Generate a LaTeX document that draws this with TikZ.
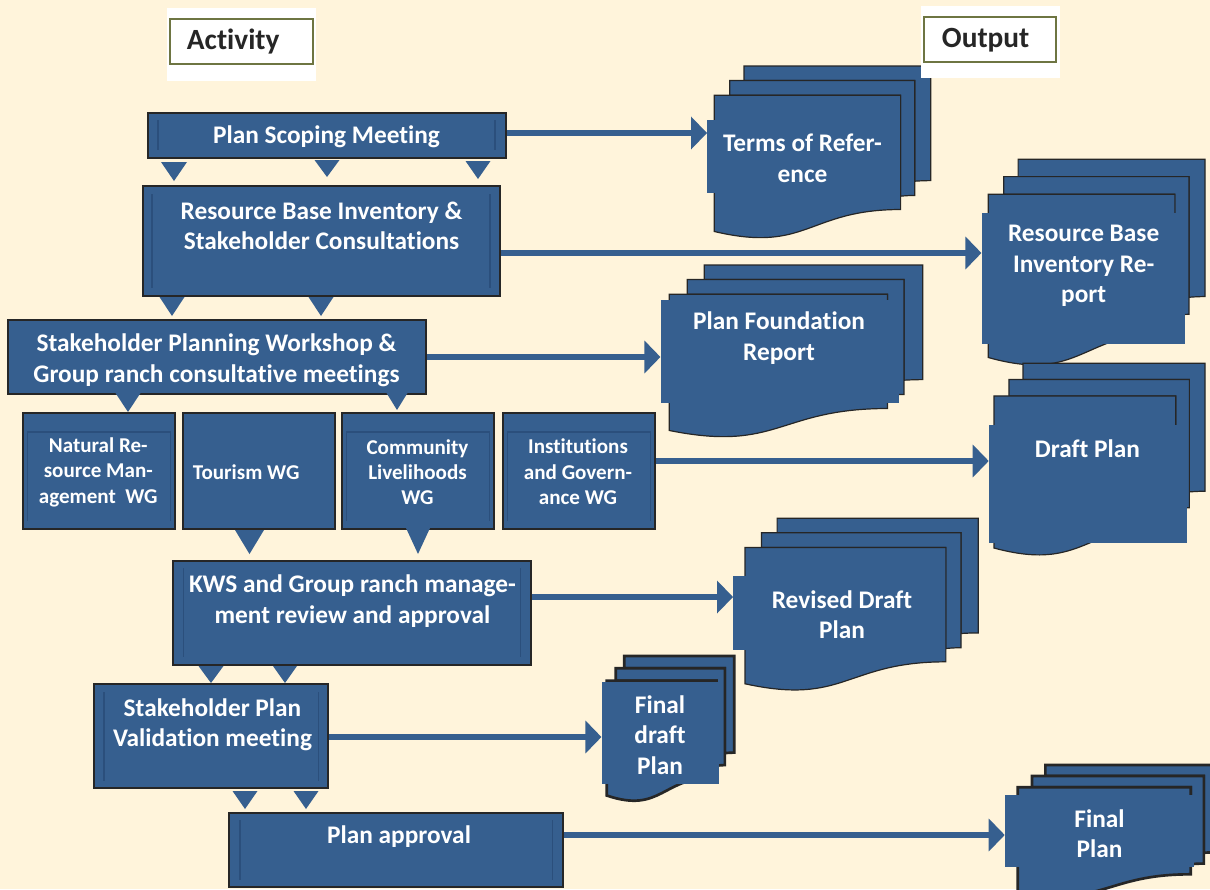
\documentclass[tikz,border=0pt]{standalone}
\usepackage{fontspec}
\setmainfont{Carlito}[Ligatures=NoCommon]
\usetikzlibrary{arrows.meta,fit,calc}

\definecolor{cream}{HTML}{FFF4DB}
\definecolor{boxblue}{HTML}{365F8F}
\definecolor{edge}{HTML}{262626}
\definecolor{innerln}{HTML}{2B4F7C}
\definecolor{olive}{HTML}{6E7542}

% stack of three pages with a wavy bottom edge: x0, y0, width, height, style
\newcommand\docstack[5]{%
  \begin{scope}[shift={(#1,#2)}, xscale=#3, yscale=#4]
    \filldraw[#5] (0.1376,0) -- (1,0) -- (1,0.6663)
      .. controls (0.963,0.6663) and (0.926,0.6698) .. (0.926,0.6698)
      -- (0.926,0.084) -- (0.1376,0.084) -- cycle;
    \filldraw[#5] (0.0709,0.1701) -- (0.0709,0.084) -- (0.926,0.084) -- (0.926,0.7524)
      .. controls (0.8935,0.7524) and (0.8609,0.757) .. (0.8609,0.757)
      -- (0.8609,0.1701) -- cycle;
    \filldraw[#5] (0,0.9621) .. controls (0.4305,1.0899) and (0.4305,0.8344) .. (0.8609,0.8344)
      -- (0.8609,0.1701) -- (0,0.1701) -- cycle;
  \end{scope}}

% downward pointing marker: centre x, top y, tip y, width
\newcommand\dropat[4]{%
  \fill[drop] ({#1-#4/2},#2) -- ({#1+#4/2},#2) -- (#1,#3) -- cycle;}

\begin{document}
\begin{tikzpicture}[x=0.75pt,y=-0.75pt,
  actbox/.style={draw=edge, line width=1.5pt, fill=boxblue, inner sep=0pt},
  acttext/.style={text=white, font=\fontsize{19}{23}\selectfont\bfseries, align=center, inner sep=0pt},
  wgtext/.style={text=white, font=\fontsize{15.8}{19}\selectfont\bfseries, align=center, inner sep=0pt},
  textbox/.style={fill=boxblue, inner sep=0pt},
  page/.style={draw=edge, fill=boxblue, line width=0.9pt},
  heavypage/.style={draw=edge, fill=boxblue, line width=2pt},
  flow/.style={draw=boxblue, line width=4.4pt, -{Triangle[length=12pt,width=24pt]}},
  drop/.style={fill=boxblue},
  innerline/.style={draw=innerln, line width=0.8pt},
  headbox/.style={draw=olive, line width=1.6pt, fill=white, inner sep=0pt},
  headtext/.style={text=edge, font=\fontsize{22}{26}\selectfont\bfseries, inner sep=0pt, anchor=west},
]
\useasboundingbox (0,0) rectangle (1210,889);
\fill[cream] (0,0) rectangle (1210,889);

% ---------- output documents ----------
\docstack{714.3}{66}{216.4}{172}{page}
\node[textbox, fit={(707.3,120) (890.7,192.7)}] (tor) {};
\node[acttext] (tor-t) at (802.5,158.5) {Terms of Refer-\\ence};

\docstack{988.3}{159.3}{216.7}{206}{page}
\node[textbox, fit={(981.7,213.3) (1185,344.3)}] (rbir) {};
\node[acttext] (rbir-t) at (1083.7,266) {Resource Base\\Inventory Re-\\port};

\docstack{669.3}{265}{253.4}{172}{page}
\node[textbox, fit={(660.7,300) (899,402.7)}] (pfr) {};
\node[acttext] (pfr-t) at (779,338.3) {Plan Foundation\\Report};

\docstack{994}{363.3}{211}{192}{page}
\node[textbox, fit={(989,425) (1186.7,542.7)}] (dp) {};
\node[acttext] (dp-t) at (1087.5,448.3) {Draft Plan};

\docstack{745}{518.3}{233.3}{172}{page}
\node[textbox, fit={(733.3,575.7) (936,650)}] (rdp) {};
\node[acttext] (rdp-t) at (842,614.7) {Revised Draft\\Plan};

\docstack{606.7}{656}{127.6}{145}{heavypage}
\node[textbox, fit={(601.7,681.7) (719,784)}] (fdp) {};
\node[acttext] (fdp-t) at (660,735) {Final\\draft\\Plan};

\docstack{1017.7}{765}{201}{131}{heavypage}
\node[textbox, fit={(1005,795) (1194,867.3)}] (fp) {};
\node[acttext] (fp-t) at (1099.5,833.8) {Final\\Plan};

% ---------- activity boxes ----------
\node[actbox, fit={(147.7,113.3) (505.7,157.7)}] (psm) {};
\node[actbox, fit={(143,186) (500,296)}] (rbi) {};
\node[actbox, fit={(7.7,320) (426,394)}] (spw) {};
\node[actbox, fit={(22.7,413.3) (174.7,529.3)}] (nrm) {};
\node[actbox, fit={(182.7,413) (335,529)}] (twg) {};
\node[actbox, fit={(342.3,413) (494,529)}] (clw) {};
\node[actbox, fit={(503,413) (655,529)}] (ins) {};
\node[actbox, fit={(173.3,561) (530.7,665)}] (kws) {};
\node[actbox, fit={(94,684.3) (328.3,788.3)}] (spv) {};
\node[actbox, fit={(229.3,813.3) (563.3,887.3)}] (pa) {};

% ---------- activity to output connectors ----------
\draw[flow] (psm.east |- 0,133) -- (tor.west |- 0,133);
\draw[flow] (rbi.east |- 0,253) -- (rbir.west |- 0,253);
\draw[flow] (spw.east |- 0,357) -- (pfr.west |- 0,357);
\draw[flow] (ins.east |- 0,461) -- (dp.west |- 0,461);
\draw[flow] (kws.east |- 0,597) -- (rdp.west |- 0,597);
\draw[flow] (spv.east |- 0,737) -- (fdp.west |- 0,737);
\draw[flow] (pa.east |- 0,835) -- (fp.west |- 0,835);

% inner text frame lines
\draw[innerline] (158,120) -- (158,150) (495,120) -- (495,150);
\draw[innerline] (152,194) -- (152,288) (490,194) -- (490,288);
\draw[innerline] (183.3,568) -- (183.3,657) (520.7,568) -- (520.7,657);
\draw[innerline] (104,692) -- (104,781) (318.3,692) -- (318.3,781);
\draw[innerline] (240,820) -- (240,880) (552.7,820) -- (552.7,880);
\draw[innerline] (27.7,520.7) -- (27.7,432) -- (170.7,432) -- (170.7,520.7);
\draw[innerline] (346.7,520.7) -- (346.7,432) -- (489.5,432) -- (489.5,520.7);
\draw[innerline] (507.5,520.7) -- (507.5,432) -- (650.5,432) -- (650.5,520.7);

% activity texts
\node[acttext] (psm-t) at (326.5,137) {Plan Scoping Meeting};
\node[acttext] (rbi-t) at (321.5,226) {Resource Base Inventory \&\\Stakeholder Consultations};
\node[acttext] (spw-t) at (216.5,360) {Stakeholder Planning Workshop \&\\Group ranch consultative meetings};
\node[wgtext] (nrm-t) at (98.3,472.3) {Natural Re-\\source Man-\\agement \ WG};
\node[wgtext, anchor=west] (twg-t) at (192.7,471.7) {Tourism WG};
\node[wgtext] (clw-t) at (417.5,472.3) {Community\\Livelihoods\\WG};
\node[wgtext] (ins-t) at (578,472) {Institutions\\and Govern-\\ance WG};
\node[acttext] (kws-t) at (352.5,601) {KWS and Group ranch manage-\\ment review and approval};
\node[acttext] (spv-t) at (212.5,724.7) {Stakeholder Plan\\Validation meeting};
\node[acttext] (pa-t) at (399,836.7) {Plan approval};

% ---------- step markers between activities ----------
\dropat{174}{162}{181}{26}
\dropat{327}{160}{177}{25}
\dropat{478}{161}{179}{25}
\dropat{172}{297}{316}{25}
\dropat{321}{297}{316}{25}
\dropat{128}{393}{412}{25}
\dropat{397}{393}{410}{21}
\dropat{249.5}{530}{554}{29}
\dropat{418}{528}{554}{24}
\dropat{211}{666}{683}{25}
\dropat{285}{666}{683}{24}
\dropat{245}{791}{809}{25}
\dropat{306}{791}{809}{25}

% ---------- column headings ----------
\fill[white] (166.7,7.7) rectangle (315.7,80.7);
\node[headbox, fit={(170,19) (313,63.7)}] (acth) {};
\node[headtext] (acth-t) at (186.7,41.5) {Activity};

\fill[white] (921,6) rectangle (1060,78);
\node[headbox, fit={(924,17) (1056,62)}] (outh) {};
\node[headtext] (outh-t) at (941.7,40) {Output};
\end{tikzpicture}
\end{document}
